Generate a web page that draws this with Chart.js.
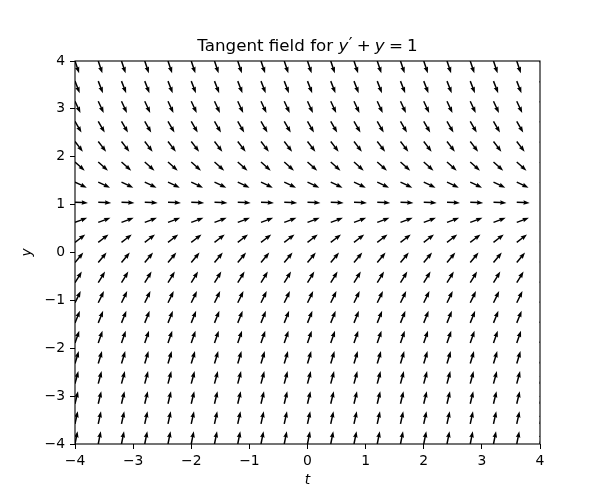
<!DOCTYPE html>
<html>
<head>
<meta charset="utf-8">
<script src="https://cdn.jsdelivr.net/npm/chart.js@4.4.0/dist/chart.umd.min.js"></script>
<style>
  html, body { margin: 0; padding: 0; background: #fff; }
  canvas { display: block; }
</style>
</head>
<body>
<canvas id="fieldChart" width="600" height="500"></canvas>
<script>
// Grid of the tangent field (columns in t, rows in y)
const tValues = [-4, -3.6, -3.2, -2.8, -2.4, -2, -1.6, -1.2, -0.8, -0.4, 0, 0.4, 0.8, 1.2, 1.6, 2, 2.4, 2.8, 3.2, 3.6, 4];
const yValues = [-4, -3.58, -3.16, -2.74, -2.32, -1.89, -1.47, -1.05, -0.63, -0.21,
                 0.21, 0.63, 1.05, 1.47, 1.89, 2.32, 2.74, 3.16, 3.58, 4];
// slope dy/dt on each row (y' = 1 - y)
const slopes = [5, 4.58, 4.16, 3.74, 3.32, 2.89, 2.47, 2.05, 1.63, 1.21,
                0.79, 0.37, -0.05, -0.47, -0.89, -1.32, -1.74, -2.16, -2.58, -3];
const tickValues = [-4, -3, -2, -1, 0, 1, 2, 3, 4];

const FONT = '"DejaVu Sans", "Liberation Sans", sans-serif';

// one point per grid node, the slope travels with it
const points = [];
yValues.forEach((y, r) => {
    tValues.forEach(t => points.push({ x: t, y: y, s: slopes[r] }));
});

function minusLabel(v) {
    return v < 0 ? '\u2212' + Math.abs(v) : String(v);
}

// arrows drawn at the library's pixel positions, tail on the node
const arrowPlugin = {
    id: 'arrows',
    afterDatasetsDraw(chart) {
        const ctx = chart.ctx;
        const area = chart.chartArea;
        const meta = chart.getDatasetMeta(0);
        const data = chart.data.datasets[0].data;
        const L = 13, w = 1.5, hw = 4.6, hl = 6.4, ha = 5.8;

        ctx.save();
        ctx.beginPath();
        ctx.rect(area.left, area.top, area.right - area.left, area.bottom - area.top);
        ctx.clip();
        ctx.fillStyle = '#000';
        meta.data.forEach((el, i) => {
            const ang = Math.atan2(-data[i].s, 1);
            ctx.save();
            ctx.translate(el.x, el.y);
            ctx.rotate(ang);
            ctx.beginPath();
            ctx.moveTo(0, -w / 2);
            ctx.lineTo(L - ha, -w / 2);
            ctx.lineTo(L - hl, -hw / 2);
            ctx.lineTo(L, 0);
            ctx.lineTo(L - hl, hw / 2);
            ctx.lineTo(L - ha, w / 2);
            ctx.lineTo(0, w / 2);
            ctx.closePath();
            ctx.fill();
            ctx.restore();
        });
        ctx.restore();

        // axes frame
        ctx.save();
        ctx.strokeStyle = '#000';
        ctx.lineWidth = 1.1;
        ctx.strokeRect(area.left, area.top, area.right - area.left, area.bottom - area.top);
        ctx.restore();
    },
    afterDraw(chart) {
        const ctx = chart.ctx;
        const area = chart.chartArea;
        const cx = (area.left + area.right) / 2;
        ctx.save();
        ctx.fillStyle = '#000';
        ctx.textBaseline = 'alphabetic';
        ctx.textAlign = 'left';

        // title: Tangent field for y' + y = 1
        const size = 16.7;
        const parts = [
            { txt: 'Tangent field for ', it: false, dy: 0, dx: 0 },
            { txt: 'y', it: true, dy: 0, dx: 0 },
            { txt: '\u2032', it: false, dy: -2, dx: 0.5 },
            { txt: '\u2005+\u2005', it: false, dy: 0, dx: 0 },
            { txt: 'y', it: true, dy: 0, dx: 0 },
            { txt: '\u2005=\u20051', it: false, dy: 0, dx: 0 }
        ];
        let total = 0;
        parts.forEach(p => {
            ctx.font = (p.it ? 'italic ' : '') + size + 'px ' + FONT;
            p.w = ctx.measureText(p.txt).width + p.dx;
            total += p.w;
        });
        let x = cx - total / 2;
        parts.forEach(p => {
            ctx.font = (p.it ? 'italic ' : '') + size + 'px ' + FONT;
            ctx.fillText(p.txt, x + p.dx, 51 + p.dy);
            x += p.w;
        });

        // axis labels
        ctx.font = 'italic 13.9px ' + FONT;
        ctx.textAlign = 'center';
        ctx.fillText('t', cx, 484);
        ctx.save();
        ctx.translate(31, (area.top + area.bottom) / 2);
        ctx.rotate(-Math.PI / 2);
        ctx.fillText('y', 0, 0);
        ctx.restore();
        ctx.restore();
    }
};

const tickFont = { family: FONT, size: 13.9 };

new Chart(document.getElementById('fieldChart'), {
    type: 'scatter',
    data: {
        datasets: [{
            data: points,
            pointRadius: 0,
            pointHoverRadius: 0
        }]
    },
    options: {
        responsive: false,
        animation: false,
        events: [],
        layout: { padding: { top: 61, right: 60, bottom: 0, left: 0 } },
        plugins: {
            legend: { display: false },
            tooltip: { enabled: false },
            title: { display: false }
        },
        scales: {
            x: {
                type: 'linear',
                min: -4,
                max: 4,
                afterFit: s => { s.height = 56; },
                afterBuildTicks: s => { s.ticks = tickValues.map(v => ({ value: v })); },
                grid: { drawOnChartArea: false, drawTicks: true, tickLength: 5, color: '#000', lineWidth: 1 },
                border: { display: false },
                ticks: { color: '#000', font: tickFont, padding: 4, maxRotation: 0, callback: minusLabel }
            },
            y: {
                type: 'linear',
                min: -4,
                max: 4,
                afterFit: s => { s.width = 75; },
                afterBuildTicks: s => { s.ticks = tickValues.map(v => ({ value: v })); },
                grid: { drawOnChartArea: false, drawTicks: true, tickLength: 5, color: '#000', lineWidth: 1 },
                border: { display: false },
                ticks: { color: '#000', font: tickFont, padding: 5, callback: minusLabel }
            }
        }
    },
    plugins: [arrowPlugin]
});
</script>
</body>
</html>
